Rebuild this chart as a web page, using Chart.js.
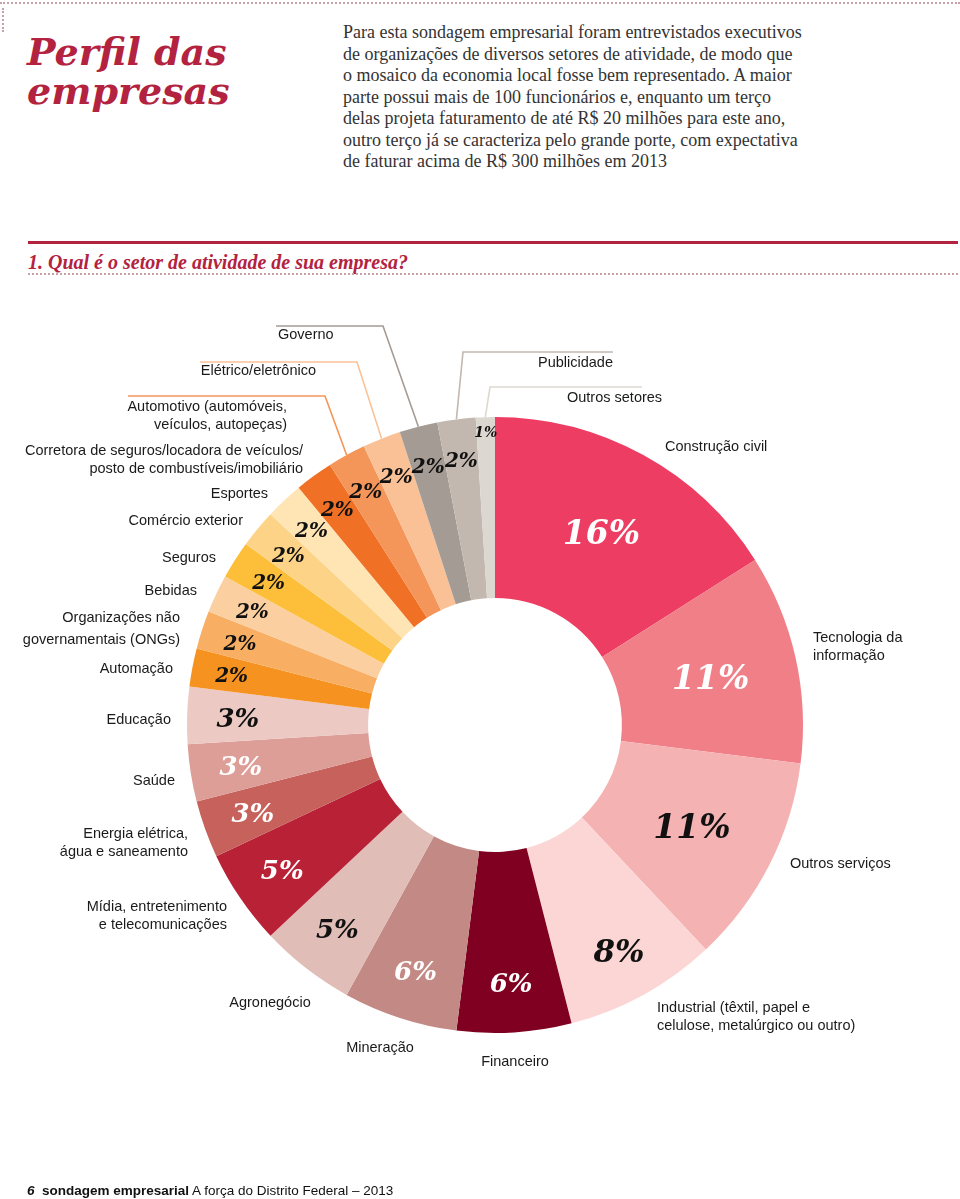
<!DOCTYPE html>
<html lang="pt-BR">
<head>
<meta charset="utf-8">
<title>Perfil das empresas</title>
<script src="https://cdn.jsdelivr.net/npm/chart.js@4/dist/chart.umd.min.js"></script>
<style>
  html,body{margin:0;padding:0;background:#fff;}
  body{width:960px;height:1199px;position:relative;overflow:hidden;}
  .topdots{position:absolute;left:0;top:2px;width:960px;border-top:2px dotted #c7a1a8;}
  .leftdots{position:absolute;left:2px;top:8px;height:24px;border-left:2px dotted #c7a1a8;}
  .title{position:absolute;left:27px;top:32px;font-family:"DejaVu Serif",serif;font-weight:bold;font-style:italic;
         font-size:38px;line-height:39px;color:#b3223f;}
  .intro{position:absolute;left:343px;top:22px;width:560px;font-family:"Liberation Serif",serif;font-size:18px;
         line-height:21.5px;color:#333;}
  .rule{position:absolute;left:28px;top:241px;width:930px;height:3px;background:#b3223f;}
  .question{position:absolute;left:28px;top:250px;font-family:"Liberation Serif",serif;font-weight:bold;font-style:italic;
         font-size:20px;line-height:24px;color:#b3223f;}
  .qdots{position:absolute;left:28px;top:273px;width:930px;border-top:2px dotted #c7a1a8;}
  .footer{position:absolute;left:27px;top:1182px;font-family:"Liberation Sans",Arial,sans-serif;font-size:13.5px;
         line-height:18px;color:#111;}
  .footer b{font-weight:bold;}
  .footer i{font-style:italic;font-weight:bold;}
  #chart{position:absolute;left:0;top:0;}
</style>
</head>
<body>
<div class="topdots"></div>
<div class="leftdots"></div>
<div class="title">Perfil das<br>empresas</div>
<div class="intro">Para esta sondagem empresarial foram entrevistados executivos<br>de organizações de diversos setores de atividade, de modo que<br>o mosaico da economia local fosse bem representado. A maior<br>parte possui mais de 100 funcionários e, enquanto um terço<br>delas projeta faturamento de até R$ 20 milhões para este ano,<br>outro terço já se caracteriza pelo grande porte, com expectativa<br>de faturar acima de R$ 300 milhões em 2013</div>
<div class="rule"></div>
<div class="question">1. Qual é o setor de atividade de sua empresa?</div>
<div class="qdots"></div>
<canvas id="chart" width="960" height="1199"></canvas>
<div class="footer"><i>6</i>&nbsp; <b>sondagem empresarial</b> A força do Distrito Federal – 2013</div>

<script>
// ---- DATA ----
const categories = [
  "Construção civil",
  "Tecnologia da informação",
  "Outros serviços",
  "Industrial (têxtil, papel e celulose, metalúrgico ou outro)",
  "Financeiro",
  "Mineração",
  "Agronegócio",
  "Mídia, entretenimento e telecomunicações",
  "Energia elétrica, água e saneamento",
  "Saúde",
  "Educação",
  "Automação",
  "Organizações não governamentais (ONGs)",
  "Bebidas",
  "Seguros",
  "Comércio exterior",
  "Esportes",
  "Corretora de seguros/locadora de veículos/posto de combustíveis/imobiliário",
  "Automotivo (automóveis, veículos, autopeças)",
  "Elétrico/eletrônico",
  "Governo",
  "Publicidade",
  "Outros setores"
];
const values = [16, 11, 11, 8, 6, 6, 5, 5, 3, 3, 3, 2, 2, 2, 2, 2, 2, 2, 2, 2, 2, 2, 1];

// ---- STYLES ----
const sliceColors = [
  "#ee3d62", "#f17f88", "#f5b2b3", "#fbd6d4", "#7f0020", "#c38a85", "#e0bdb7",
  "#b92137", "#c6615b", "#dd9e97", "#ecc9c3",
  "#f6921f", "#f8ae63", "#fbcf9f", "#fdbf3a", "#fdd487", "#ffe4b4",
  "#f07026", "#f4965a", "#fbc196", "#a49b94", "#c2b8af", "#ddd7d1"
];
const valueLabelColors = [
  "#ffffff", "#ffffff", "#111111", "#111111", "#ffffff", "#ffffff", "#111111",
  "#ffffff", "#ffffff", "#ffffff", "#111111",
  "#111111", "#111111", "#111111", "#111111", "#111111", "#111111",
  "#111111", "#111111", "#111111", "#111111", "#111111", "#111111"
];

// ---- LAYOUT OF CATEGORY LABELS (annotation text, not marks) ----
const labelLayout = [
  {lines:["Construção civil"], x:665, y:447, align:"left"},
  {lines:["Tecnologia da","informação"], x:813, y:638, align:"left"},
  {lines:["Outros serviços"], x:790, y:864, align:"left"},
  {lines:["Industrial (têxtil, papel e","celulose, metalúrgico ou outro)"], x:657, y:1008, align:"left"},
  {lines:["Financeiro"], x:515, y:1062, align:"center"},
  {lines:["Mineração"], x:380, y:1048, align:"center"},
  {lines:["Agronegócio"], x:270, y:1003, align:"center"},
  {lines:["Mídia, entretenimento","e telecomunicações"], x:227, y:907, align:"right"},
  {lines:["Energia elétrica,","água e saneamento"], x:188, y:834, align:"right"},
  {lines:["Saúde"], x:175, y:781, align:"right"},
  {lines:["Educação"], x:171, y:720, align:"right"},
  {lines:["Automação"], x:173, y:669, align:"right"},
  {lines:["Organizações não","governamentais (ONGs)"], x:180, y:618, align:"right", gap:22},
  {lines:["Bebidas"], x:197, y:591, align:"right"},
  {lines:["Seguros"], x:216, y:558, align:"right"},
  {lines:["Comércio exterior"], x:243, y:521, align:"right"},
  {lines:["Esportes"], x:268, y:494, align:"right"},
  {lines:["Corretora de seguros/locadora de veículos/","posto de combustíveis/imobiliário"], x:303, y:451, align:"right"},
  {lines:["Automotivo (automóveis,","veículos, autopeças)"], x:287, y:407, align:"right"},
  {lines:["Elétrico/eletrônico"], x:316, y:371, align:"right"},
  {lines:["Governo"], x:278, y:335, align:"left"},
  {lines:["Publicidade"], x:538, y:363, align:"left"},
  {lines:["Outros setores"], x:567, y:398, align:"left"}
];
// leader lines: index -> elbow point and end point (start is computed from the arc)
const leaderLayout = {
  18: {elbow:[325,396], end:[128,396]},
  19: {elbow:[357,362], end:[200,362]},
  20: {elbow:[383,326], end:[276,326]},
  21: {elbow:[463,352], end:[613,352]},
  22: {elbow:[490,387], end:[642,387]}
};

function valueFontSize(v){
  if (v >= 10) return 33;
  if (v >= 8) return 31;
  if (v >= 3) return 26;
  if (v >= 2) return 20;
  return 14;
}
function valueRadiusFactor(v){
  if (v >= 10) return 0.52;
  if (v >= 3) return 0.72;
  if (v >= 2) return 0.78;
  return 0.92;
}

const overlayPlugin = {
  id: "overlay",
  afterDatasetsDraw(chart){
    const ctx = chart.ctx;
    const meta = chart.getDatasetMeta(0);
    ctx.save();
    meta.data.forEach((arc, i) => {
      const p = arc.getProps(["x","y","startAngle","endAngle","innerRadius","outerRadius"], true);
      const mid = (p.startAngle + p.endAngle) / 2;
      const v = values[i];
      // value label
      const r = p.innerRadius + (p.outerRadius - p.innerRadius) * valueRadiusFactor(v);
      const size = valueFontSize(v);
      ctx.font = "italic bold " + size + "px 'DejaVu Serif'";
      ctx.fillStyle = valueLabelColors[i];
      ctx.textAlign = "center";
      ctx.textBaseline = "alphabetic";
      ctx.fillText(v + "%", p.x + Math.cos(mid) * r, p.y + Math.sin(mid) * r + size * 0.38);
      // leader line
      const L = leaderLayout[i];
      if (L){
        ctx.beginPath();
        ctx.strokeStyle = sliceColors[i];
        ctx.lineWidth = 1.6;
        ctx.moveTo(p.x + Math.cos(mid) * p.outerRadius, p.y + Math.sin(mid) * p.outerRadius);
        ctx.lineTo(L.elbow[0], L.elbow[1]);
        ctx.lineTo(L.end[0], L.end[1]);
        ctx.stroke();
      }
      // category label
      const T = labelLayout[i];
      ctx.font = "14.5px 'Liberation Sans', Arial, sans-serif";
      ctx.fillStyle = "#1a1a1a";
      ctx.textAlign = T.align;
      ctx.textBaseline = "middle";
      const gap = T.gap || 18;
      T.lines.forEach((line, k) => ctx.fillText(line, T.x, T.y + k * gap));
    });
    ctx.restore();
  }
};

new Chart(document.getElementById("chart"), {
  type: "doughnut",
  data: {
    labels: categories,
    datasets: [{
      data: values,
      backgroundColor: sliceColors,
      borderWidth: 0,
      hoverOffset: 0
    }]
  },
  options: {
    responsive: false,
    animation: false,
    cutout: "41.2%",
    layout: { padding: { left: 187, right: 157, top: 417, bottom: 166 } },
    plugins: { legend: { display: false }, tooltip: { enabled: false } },
    events: []
  },
  plugins: [overlayPlugin]
});
</script>
</body>
</html>
